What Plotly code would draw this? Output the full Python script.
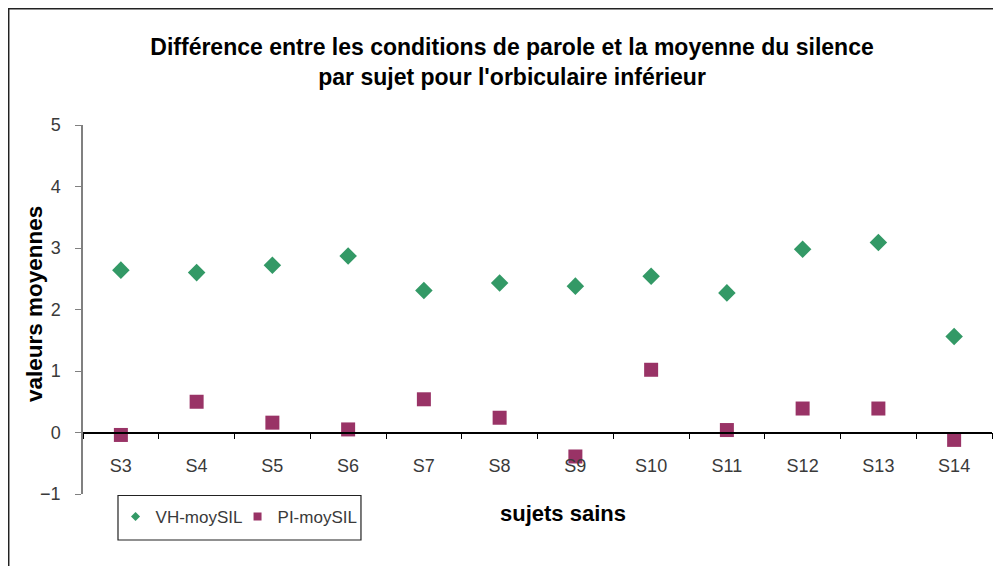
import plotly.graph_objects as go

categories = ["S3", "S4", "S5", "S6", "S7", "S8", "S9", "S10", "S11", "S12", "S13", "S14"]
vh_moysil = [2.64, 2.60, 2.72, 2.87, 2.31, 2.43, 2.38, 2.54, 2.27, 2.98, 3.09, 1.56]
pi_moysil = [-0.04, 0.50, 0.16, 0.05, 0.54, 0.24, -0.39, 1.02, 0.04, 0.39, 0.39, -0.12]
y_ticks = [-1, 0, 1, 2, 3, 4, 5]

GREEN = "#339966"
PURPLE = "#993366"
FONT = "Liberation Sans, Arial, sans-serif"
TICK_COLOR = "#3a3a3a"

fig = go.Figure()
fig.add_trace(go.Scatter(x=categories, y=vh_moysil, mode="markers", name="VH-moySIL",
                         marker=dict(symbol="diamond", size=13.5, color=GREEN), showlegend=False))
fig.add_trace(go.Scatter(x=categories, y=pi_moysil, mode="markers", name="PI-moySIL",
                         marker=dict(symbol="square", size=14, color=PURPLE), showlegend=False))
# legend entries (small symbols as in the reference)
fig.add_trace(go.Scatter(x=[None], y=[None], mode="markers", name="VH-moySIL",
                         marker=dict(symbol="diamond", size=7, color=GREEN)))
fig.add_trace(go.Scatter(x=[None], y=[None], mode="markers", name="PI-moySIL",
                         marker=dict(symbol="square", size=8, color=PURPLE)))

# page body has an 8px margin: figure is sized so it fills the 1001x566 window
fig.update_layout(
    width=993, height=558,
    margin=dict(l=75, r=9, t=117, b=72, autoexpand=False),
    paper_bgcolor="white", plot_bgcolor="white",
    font=dict(family=FONT, size=17, color=TICK_COLOR),
    title=dict(
        text="Différence entre les conditions de parole et la moyenne du silence<br>par sujet pour l'orbiculaire inférieur",
        x=0.5076, xanchor="center", y=0.9158, yanchor="middle",
        font=dict(family=FONT, size=23, color="black", weight="bold"),
    ),
    xaxis=dict(
        type="category", categoryorder="array", categoryarray=categories,
        range=[-0.5, 11.5], automargin=False,
        anchor="free", position=1/6,
        showline=True, linecolor="black", linewidth=1.5,
        ticks="outside", tickson="boundaries", ticklen=6, tickcolor="black",
        ticklabelstandoff=17,
        showgrid=False, zeroline=False,
        tickfont=dict(size=18, color=TICK_COLOR),
    ),
    yaxis=dict(
        range=[-1, 5], tickvals=y_ticks, domain=[0, 1], automargin=False,
        showline=True, linecolor="#808080", linewidth=1.5,
        ticks="outside", ticklen=6, tickcolor="#808080",
        ticklabelstandoff=11,
        showgrid=False, zeroline=False,
        tickfont=dict(size=18, color=TICK_COLOR),
    ),
    legend=dict(
        orientation="h", x=0.0358, xanchor="left", y=-0.062, yanchor="middle",
        borderwidth=0, bgcolor="rgba(0,0,0,0)",
        font=dict(size=17, color=TICK_COLOR),
        itemwidth=30, tracegroupgap=0,
        entrywidth=77, entrywidthmode="pixels",
    ),
    annotations=[
        dict(text="<b>sujets sains</b>", xref="paper", yref="paper",
             x=0.528, y=-0.052, xanchor="center", yanchor="middle", showarrow=False,
             font=dict(family=FONT, size=22, color="black")),
        dict(text="<b>valeurs moyennes</b>", xref="paper", yref="paper",
             x=-0.0528, y=0.515, xanchor="center", yanchor="middle", showarrow=False,
             textangle=-90,
             font=dict(family=FONT, size=22.5, color="black")),
    ],
    shapes=[
        dict(type="rect", xref="paper", yref="paper",
             x0=-0.082, y0=-0.4, x1=1.2, y1=1.3157,
             line=dict(color="#222222", width=2), fillcolor="rgba(0,0,0,0)", layer="below"),
        dict(type="rect", xref="paper", yref="paper",
             x0=0.0385, y0=-0.1247, x1=0.3058, y1=-0.004,
             line=dict(color="#222222", width=1.2), fillcolor="white", layer="below"),
    ],
)

fig.write_html("out.html")
